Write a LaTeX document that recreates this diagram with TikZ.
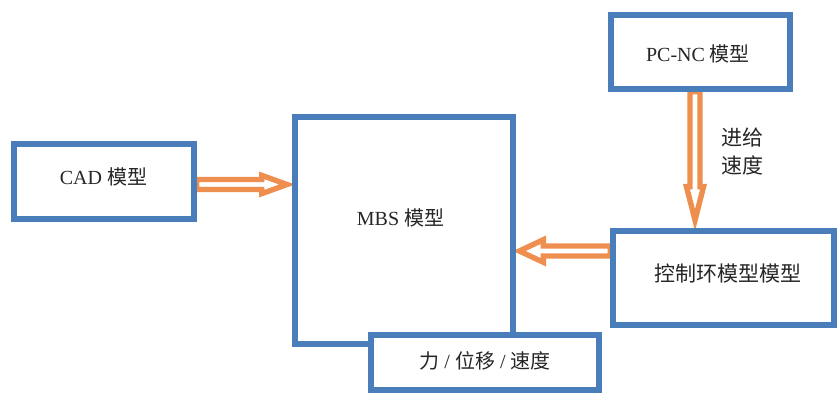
\documentclass[tikz,border=0pt]{standalone}
\usepackage{fontspec}
\setmainfont{Liberation Serif}
\newfontfamily\cjk{Noto Sans CJK SC}
\usetikzlibrary{calc}
\pgfdeclarelayer{background}
\pgfsetlayers{background,main}
\definecolor{boxblue}{HTML}{4A7EBB}
\definecolor{arroworange}{HTML}{EF8F4F}
% hollow block arrow: #1 from, #2 to, #3 head length, #4 head half-width
\newcommand\HollowArrow[4]{%
\path[draw=arroworange, fill=white, line width=5.4pt, line join=miter, miter limit=20]
 let \p1=(#1), \p2=(#2),
 \n1={atan2(\y2-\y1,\x2-\x1)},
 \n2={veclen(\x2-\x1,\y2-\y1)},
 \n3={atan(#4/#3)},
 \n4={\n2-#3pt+2.7pt},
 \n5={(#4*(#3-2.7)/#3-2.7/cos(\n3))*1pt},
 \n6={\n2-2.7pt/sin(\n3)}
 in
 ($(\p1)+(\n1:2.7pt)+(\n1+90:5pt)$) -- ($(\p1)+(\n1:\n4)+(\n1+90:5pt)$)
 -- ($(\p1)+(\n1:\n4)+(\n1+90:\n5)$) -- ($(\p1)+(\n1:\n6)$)
 -- ($(\p1)+(\n1:\n4)+(\n1-90:\n5)$) -- ($(\p1)+(\n1:\n4)+(\n1-90:5pt)$)
 -- ($(\p1)+(\n1:2.7pt)+(\n1-90:5pt)$) -- cycle;}
\begin{document}
\begin{tikzpicture}[x=1pt,y=-1pt,
  box/.style={draw=boxblue, line width=6.5pt, fill=white, rectangle, inner sep=0pt, outer sep=0pt},
  lbl/.style={font=\fontsize{20}{28}\selectfont, inner sep=0pt, text=black!85},
  cjklbl/.style={lbl, font=\fontsize{21}{28}\selectfont\cjk, align=center}]
\useasboundingbox (0,0) rectangle (837,395);
% boxes
\node[box, minimum width=180pt, minimum height=75pt] (cad) at (104,181.5) {};
\node[box, minimum width=218pt, minimum height=227pt] (mbs) at (404,230.5) {};
\node[box, minimum width=228pt, minimum height=55pt] (out) at (485,362.5) {};
\node[box, minimum width=179pt, minimum height=74pt] (pcnc) at (700.5,52) {};
\node[box, minimum width=221pt, minimum height=94pt] (ctrl) at (723.5,278) {};
% texts
\node[lbl] (cadtext) at (103.5,177) {CAD {\cjk 模型}};
\node[lbl] (mbstext) at (400.5,218) {MBS {\cjk 模型}};
\node[lbl] (outtext) at (485,361) {{\cjk 力} / {\cjk 位移} / {\cjk 速度}};
\node[lbl] (pcnctext) at (698,54) {PC-NC {\cjk 模型}};
\node[cjklbl] (ctrltext) at (727.5,274) {控制环模型模型};
\node[cjklbl] (feed) at (742,152) {进给\\速度};
% connectors, behind the boxes
\coordinate (a1s) at ([yshift=-3pt]cad.east);
\coordinate (a1e) at (mbs.west |- a1s);
\coordinate (a2s) at ([yshift=27pt]ctrl.west);
\coordinate (a2e) at (mbs.east |- a2s);
\coordinate (a3s) at ([xshift=-5.5pt]pcnc.south);
\coordinate (a3e) at (ctrl.north -| a3s);
\begin{pgfonlayer}{background}
\fill[white] (0,0) rectangle (837,395);
\HollowArrow{a1s}{a1e}{36}{13}
\HollowArrow{a2s}{a2e}{33}{15.5}
\HollowArrow{a3s}{a3e}{47}{12}
\end{pgfonlayer}
\end{tikzpicture}
\end{document}
